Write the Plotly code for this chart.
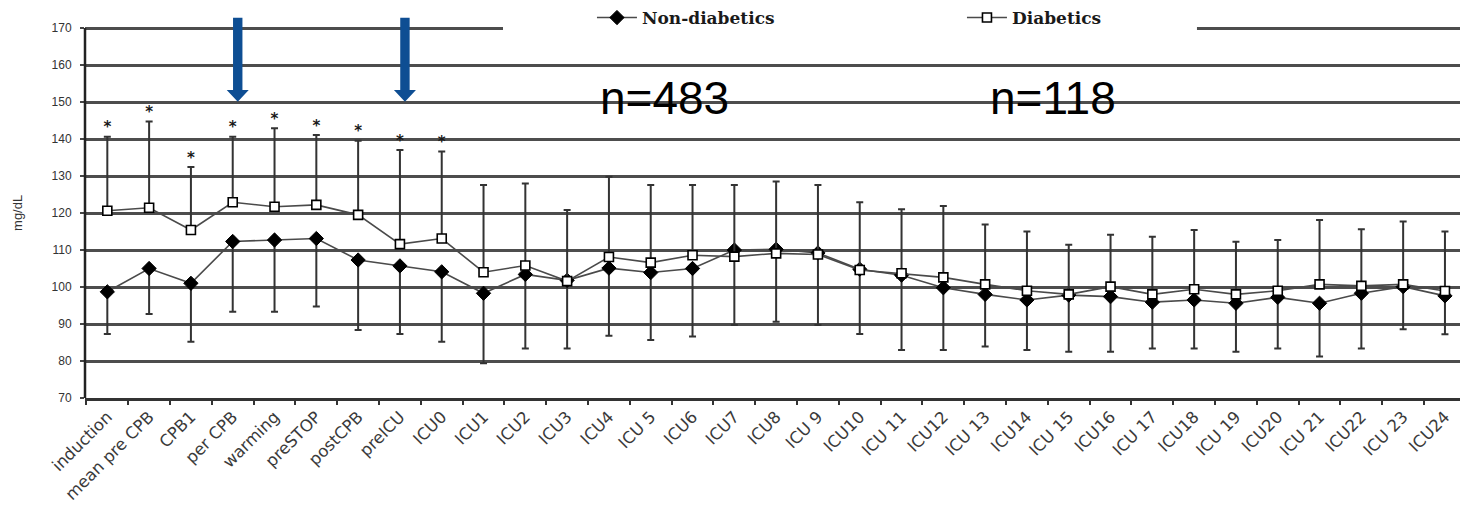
import plotly.graph_objects as go

# Sampling points across surgery and the ICU stay
categories = [
    "induction", "mean pre CPB", "CPB1", "per CPB", "warming", "preSTOP",
    "postCPB", "preICU", "ICU0", "ICU1", "ICU2", "ICU3", "ICU4", "ICU 5",
    "ICU6", "ICU7", "ICU8", "ICU 9", "ICU10", "ICU 11", "ICU12", "ICU 13",
    "ICU14", "ICU 15", "ICU16", "ICU 17", "ICU18", "ICU 19", "ICU20",
    "ICU 21", "ICU22", "ICU 23", "ICU24",
]

# Diabetics: mean glucose (mg/dL) and mean + SD
diab_mean = [120.6, 121.4, 115.4, 122.9, 121.7, 122.2, 119.5, 111.6, 113.1,
             104.0, 105.8, 101.6, 108.1, 106.6, 108.6, 108.2, 109.1, 108.8,
             104.6, 103.7, 102.6, 100.7, 99.0, 98.0, 100.1, 98.0, 99.4, 98.0,
             99.0, 100.7, 100.3, 100.7, 98.9]
diab_upper = [140.6, 144.7, 132.4, 140.6, 142.9, 141.1, 139.5, 137.0, 136.6,
              127.6, 128.0, 120.8, 129.8, 127.6, 127.6, 127.6, 128.5, 127.6,
              122.9, 121.0, 121.9, 116.9, 115.0, 111.4, 114.1, 113.6, 115.4,
              112.2, 112.7, 118.1, 115.6, 117.7, 115.0]

# Non-diabetics: mean glucose (mg/dL) and mean - SD
nond_mean = [98.7, 105.0, 101.0, 112.3, 112.7, 113.1, 107.3, 105.7, 104.1,
             98.3, 103.4, 101.8, 105.1, 103.9, 105.0, 110.0, 110.2, 109.2,
             104.8, 103.2, 99.8, 98.0, 96.5, 97.8, 97.4, 95.9, 96.5, 95.6,
             97.2, 95.6, 98.3, 100.1, 97.6]
nond_lower = [87.3, 92.7, 85.2, 93.3, 93.3, 94.7, 88.4, 87.3, 85.2, 79.4,
              83.4, 83.4, 86.8, 85.7, 86.6, 89.7, 90.6, 89.7, 87.3, 83.0,
              83.0, 83.9, 83.0, 82.5, 82.5, 83.4, 83.4, 82.5, 83.4, 81.2,
              83.4, 88.6, 87.2]

# Time points with a significant difference between groups
significant = [True] * 9 + [False] * 24

# Highlighted time points and group sizes
arrow_at = ["per CPB", "preICU"]
group_labels = [("n=483", 13.34), ("n=118", 22.62)]

y_ticks = list(range(70, 171, 10))

LINE_GREY = "#4a4a4a"
BAR_GREY = "#333333"
ARROW_BLUE = "#0E4E93"

fig = go.Figure()

fig.add_trace(go.Scatter(
    x=categories, y=nond_mean, name="Non-diabetics",
    mode="lines+markers",
    line=dict(color=LINE_GREY, width=1.6),
    marker=dict(symbol="diamond", size=11, color="black",
                line=dict(color="black", width=1)),
    error_y=dict(type="data", symmetric=False,
                 array=[0] * len(nond_mean),
                 arrayminus=[m - lo for m, lo in zip(nond_mean, nond_lower)],
                 color=BAR_GREY, thickness=2, width=3.5),
))

fig.add_trace(go.Scatter(
    x=categories, y=diab_mean, name="Diabetics",
    mode="lines+markers",
    line=dict(color=LINE_GREY, width=1.6),
    marker=dict(symbol="square", size=9, color="white",
                line=dict(color="black", width=1.6)),
    error_y=dict(type="data", symmetric=False,
                 array=[hi - m for m, hi in zip(diab_mean, diab_upper)],
                 arrayminus=[0] * len(diab_mean),
                 color=BAR_GREY, thickness=2, width=3.5),
))

# Significance markers above the upper bars
sig_x = [c for c, s in zip(categories, significant) if s]
sig_y = [u + 2.2 for u, s in zip(diab_upper, significant) if s]
fig.add_trace(go.Scatter(
    x=sig_x, y=sig_y, mode="text", text=["*"] * len(sig_x),
    textfont=dict(family="DejaVu Sans", size=15, color="#1a1a1a",
                  weight="bold"),
    showlegend=False, hoverinfo="skip",
))

shapes = []
# Left axis line spanning the labelled range only
shapes.append(dict(type="line", xref="x domain", yref="y",
                   x0=0, x1=0, y0=70, y1=170,
                   line=dict(color="#222", width=2.5)))
# Gap in the top gridline behind the legend
shapes.append(dict(type="rect", xref="paper", yref="y",
                   x0=0.304, x1=0.8087, y0=168.6, y1=171.4,
                   fillcolor="white", line=dict(width=0), layer="above"))
# Blue arrows pointing at the highlighted time points
arrow_path = ("M -4.7 84 L 4.7 84 L 4.7 11.7 L 11 11.7 L 0 0 "
              "L -11 11.7 L -4.7 11.7 Z")
for name in arrow_at:
    idx = categories.index(name)
    shapes.append(dict(type="path", xref="x", yref="y",
                       xsizemode="pixel", ysizemode="pixel",
                       xanchor=idx + 0.12, yanchor=150.1,
                       path=arrow_path, fillcolor=ARROW_BLUE,
                       line=dict(width=0), layer="above"))

annotations = []
for text, xpos in group_labels:
    annotations.append(dict(x=xpos, y=151.1, xref="x", yref="y", text=text,
                            showarrow=False, xanchor="center",
                            yanchor="middle",
                            font=dict(family="Liberation Sans", size=46,
                                      color="black")))
annotations.append(dict(x=-0.0495, y=120, xref="paper", yref="y",
                        text="mg/dL", textangle=-90, showarrow=False,
                        xanchor="center", yanchor="middle",
                        font=dict(family="Liberation Sans", size=13,
                                  color="#333")))

fig.update_layout(
    width=1460, height=514,
    margin=dict(l=85, r=0, t=0, b=116),
    paper_bgcolor="white", plot_bgcolor="white",
    showlegend=True,
    legend=dict(orientation="h", x=0.3687, y=1.0, xanchor="left",
                yanchor="top", bgcolor="rgba(0,0,0,0)",
                itemwidth=40,
                entrywidth=315, entrywidthmode="pixels",
                font=dict(family="DejaVu Serif", size=17, color="#1a1a1a",
                          weight="bold")),
    shapes=shapes,
    annotations=annotations,
)

fig.update_xaxes(
    type="category", categoryorder="array", categoryarray=categories,
    range=[-0.534, 32.36],
    tickangle=-45, tickson="boundaries",
    ticks="outside", ticklen=4, tickwidth=1.5, tickcolor="#333",
    showline=True, linecolor="#333", linewidth=2.5,
    showgrid=False, zeroline=False,
    tickfont=dict(family="DejaVu Sans", size=16.5, color="#3a3a3a"),
)

fig.update_yaxes(
    range=[70, 70 + 398 / 3.7],
    tickvals=y_ticks, ticktext=[str(v) for v in y_ticks],
    ticks="outside", ticklen=4, tickwidth=2, tickcolor="#444",
    showline=False, showgrid=True, gridcolor="#4d4d4d", gridwidth=2.5,
    zeroline=False, ticklabelstandoff=6,
    tickfont=dict(family="Liberation Sans", size=12, color="#333"),
)

fig.write_html("out.html")
